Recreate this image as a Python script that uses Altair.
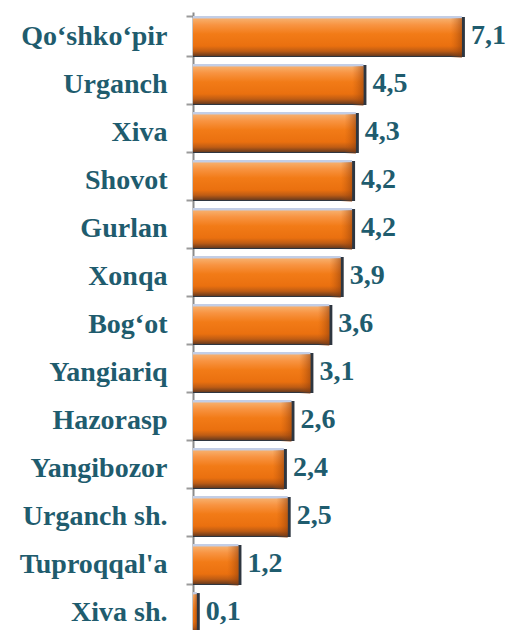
import altair as alt
import pandas as pd

districts = ["Qo‘shko‘pir", "Urganch", "Xiva", "Shovot", "Gurlan", "Xonqa", "Bog‘ot",
             "Yangiariq", "Hazorasp", "Yangibozor", "Urganch sh.", "Tuproqqal'a", "Xiva sh."]
values = [7.1, 4.5, 4.3, 4.2, 4.2, 3.9, 3.6, 3.1, 2.6, 2.4, 2.5, 1.2, 0.1]

df = pd.DataFrame({"district": districts, "value": values})

TEXT = "#1F5C6E"
FONT = "Liberation Serif"

y = alt.Y(
    "district:N",
    sort=districts,
    scale=alt.Scale(paddingInner=0.17, paddingOuter=0.085),
    axis=alt.Axis(
        title=None, labelFont=FONT, labelFontSize=28, labelFontWeight="bold",
        labelColor=TEXT, labelPadding=19, tickSize=7, tickColor="#9A9A9A",
        tickWidth=2, domainColor="#8C8C8C", domainWidth=2, tickBand="extent",
        labelLimit=0,
    ),
)
x = alt.X("value:Q", scale=alt.Scale(domain=[0, 8]), axis=None, stack=None)

base = alt.Chart(df).encode(y=y)

shadow = base.mark_bar(color="#2E3640", xOffset=3, x2Offset=1, yOffset=1).encode(x=x)

main_grad = {
    "gradient": "linear", "x1": 0, "x2": 0, "y1": 0, "y2": 1,
    "stops": [
        {"offset": 0.0, "color": "#C3CEE6"},
        {"offset": 0.05, "color": "#C3CEE6"},
        {"offset": 0.07, "color": "#F7AE6A"},
        {"offset": 0.22, "color": "#F89442"},
        {"offset": 0.45, "color": "#F27B17"},
        {"offset": 0.75, "color": "#EA700F"},
        {"offset": 0.88, "color": "#BE5C14"},
        {"offset": 1.0, "color": "#6A3B1E"},
    ],
}
main = base.mark_bar(color=main_grad, x2Offset=1).encode(x=x)

bevel_grad = {
    "gradient": "linear", "x1": 0, "x2": 1, "y1": 0, "y2": 0,
    "stops": [
        {"offset": 0.0, "color": "rgba(190,85,10,0)"},
        {"offset": 1.0, "color": "rgba(140,60,10,0.55)"},
    ],
}
bevel = base.transform_calculate(
    start="max(0, datum.value - 0.3)"
).mark_bar(color=bevel_grad, yOffset=2).encode(
    x=alt.X("start:Q", scale=alt.Scale(domain=[0, 8]), axis=None, stack=None),
    x2="value:Q",
)

labels = base.transform_calculate(
    label="replace(format(datum.value, '.1f'), '.', ',')"
).mark_text(
    align="left", baseline="middle", dx=9, font=FONT, fontSize=28,
    fontWeight="bold", color=TEXT,
).encode(x=x, text="label:N")

chart = alt.layer(shadow, main, bevel, labels).properties(
    width=303, height=624,
    autosize=alt.AutoSizeParams(type="none"),
    padding={"left": 185, "top": 4, "right": 10, "bottom": 0},
).configure_view(stroke=None)

chart.save("out.html", embed_options={"renderer": "svg", "actions": False})
